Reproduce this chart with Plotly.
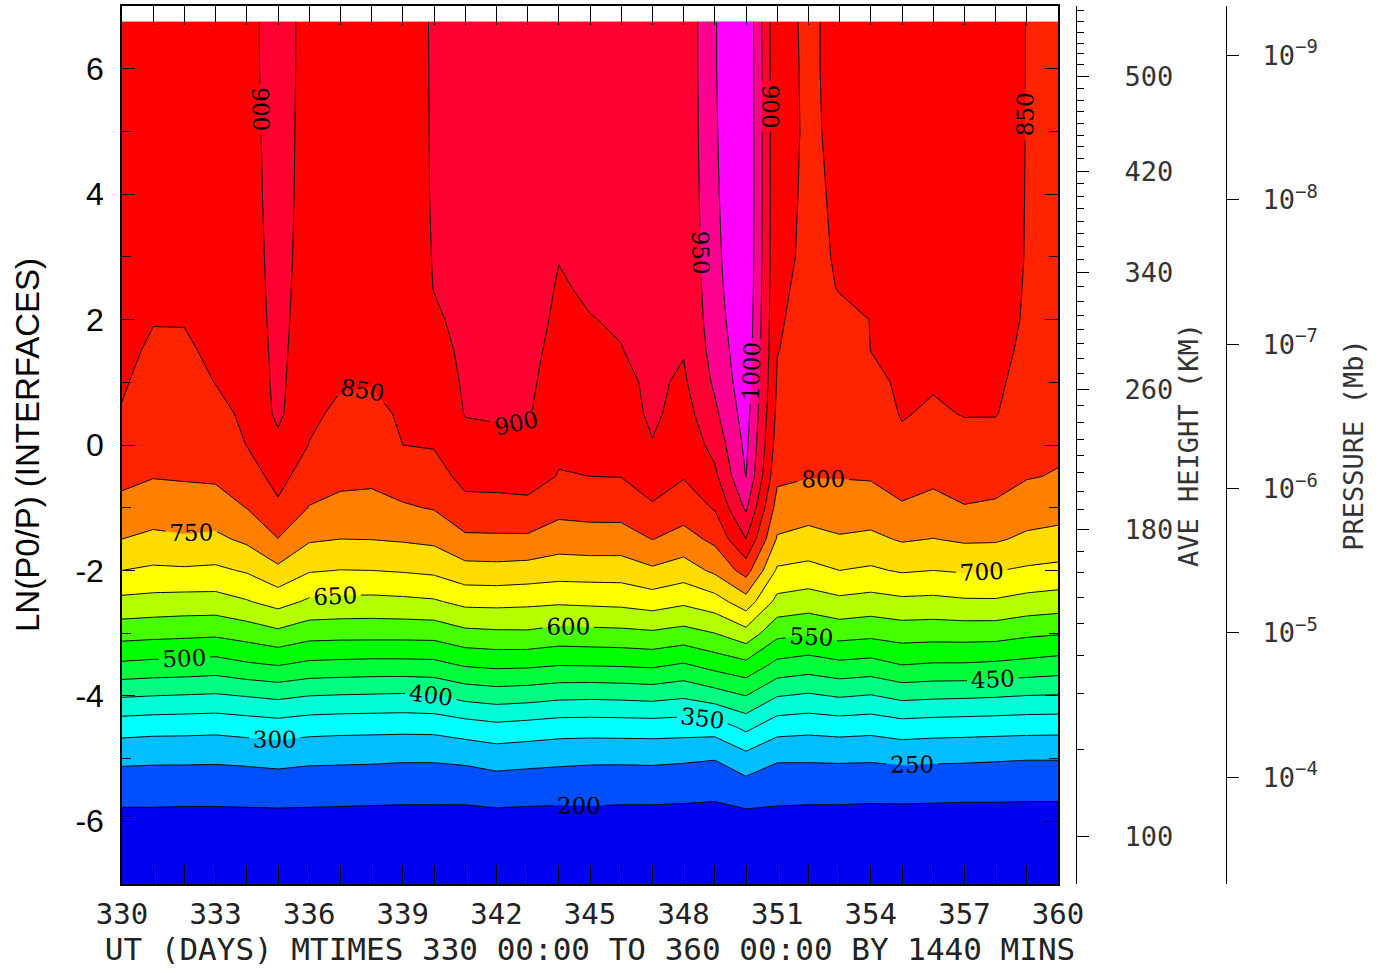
import math
import numpy as np
import plotly.graph_objects as go

# ---------------- data ----------------
DAYS = list(range(330, 361))
LNP = [-7, -6.5, -6, -5.5, -5, -4.5, -4, -3.5, -3, -2.5, -2, -1.5, -1, -0.5,
       0, 0.5, 1, 1.5, 2, 2.5, 3, 4, 5, 6, 6.75]

# temperature profiles (K) for each day, one value per LNP level
T330 = [172, 178, 184, 220, 260, 321, 404, 492, 570, 637, 700, 750, 787, 811, 829, 847, 855, 861, 866, 870, 873, 876, 878, 880, 880]
T331 = [172, 178, 184, 220, 258, 317, 400, 487, 566, 633, 692, 739, 775, 802, 812, 822, 833, 843, 852, 860, 868, 876, 880, 883, 885]
T332 = [171, 177, 183, 219, 258, 316, 397, 485, 563, 630, 694, 744, 780, 804, 814, 824, 834, 844, 852, 861, 868, 877, 883, 886, 888]
T333 = [171, 177, 183, 219, 257, 314, 394, 480, 560, 630, 691, 740, 779, 807, 822, 838, 851, 858, 864, 869, 873, 880, 885, 888, 890]
T334 = [172, 178, 184, 220, 260, 320, 402, 494, 572, 646, 705, 760, 801, 826, 851, 858, 865, 870, 875, 879, 882, 886, 889, 891, 892]
T335 = [172, 178, 184, 222, 264, 326, 410, 503, 589, 668, 738, 799, 841, 867, 888, 910, 912, 913, 914, 914, 914, 914, 913, 913, 912]
T336 = [172, 178, 184, 220, 259, 318, 400, 490, 570, 642, 704, 756, 798, 824, 849, 857, 866, 872, 877, 881, 884, 887, 889, 890, 891]
T337 = [171, 177, 183, 219, 258, 315, 397, 487, 568, 638, 699, 750, 788, 811, 827, 843, 853, 860, 866, 871, 875, 881, 885, 887, 888]
T338 = [170, 176, 182, 218, 257, 314, 395, 485, 568, 636, 700, 751, 786, 809, 823, 838, 852, 858, 863, 868, 872, 878, 882, 884, 885]
T339 = [169, 175, 181, 217, 255, 313, 393, 485, 568, 639, 704, 755, 795, 823, 850, 856, 862, 867, 871, 875, 878, 882, 884, 885, 886]
T340 = [169, 175, 181, 217, 255, 314, 397, 487, 569, 644, 710, 761, 803, 831, 853, 863, 874, 884, 894, 901, 902, 903, 903, 903, 903]
T341 = [168, 174, 180, 218, 259, 326, 416, 506, 588, 663, 732, 791, 835, 864, 885, 902, 906, 909, 911, 912, 913, 914, 915, 915, 915]
T342 = [171, 177, 183, 223, 268, 336, 424, 512, 592, 664, 734, 792, 835, 866, 890, 904, 909, 912, 914, 916, 917, 918, 919, 920, 920]
T343 = [169, 175, 181, 221, 264, 330, 420, 510, 593, 661, 730, 792, 838, 868, 893, 905, 910, 913, 915, 917, 918, 919, 920, 920, 920]
T344 = [169, 175, 181, 219, 261, 323, 412, 503, 583, 657, 723, 775, 815, 848, 857, 866, 876, 886, 893, 897, 901, 906, 910, 913, 915]
T345 = [170, 176, 182, 219, 258, 322, 410, 504, 586, 660, 724, 779, 818, 850, 860, 870, 880, 889, 899, 904, 907, 911, 913, 914, 915]
T346 = [168, 174, 180, 218, 258, 323, 412, 506, 588, 663, 724, 779, 819, 851, 863, 875, 887, 899, 903, 906, 908, 911, 913, 914, 915]
T347 = [168, 174, 180, 218, 259, 324, 416, 510, 593, 673, 742, 801, 845, 871, 897, 910, 910, 910, 910, 911, 911, 911, 912, 912, 912]
T348 = [167, 173, 179, 216, 256, 322, 407, 496, 583, 659, 726, 782, 823, 853, 866, 879, 892, 903, 904, 905, 906, 908, 910, 911, 911]
T349 = [164, 170, 176, 214, 252, 321, 427, 519, 600, 678, 760, 811, 854, 889, 916, 940, 958, 968, 977, 983, 987, 992, 995, 997, 997]
T350 = [171, 177, 183, 226, 281, 362, 450, 537, 632, 728, 820, 900, 958, 1001, 1012, 1022, 1030, 1036, 1041, 1045, 1047, 1048, 1048, 1047, 1046]
T351 = [170, 176, 183, 218, 255, 320, 402, 487, 564, 635, 693, 745, 780, 810, 828, 838, 846, 851, 853, 855, 857, 858, 858, 857, 856]
T352 = [169, 175, 181, 217, 255, 315, 393, 476, 556, 625, 685, 734, 771, 802, 815, 825, 832, 837, 841, 843, 845, 846, 847, 847, 847]
T353 = [169, 175, 181, 217, 256, 320, 404, 489, 570, 638, 700, 745, 778, 802, 811, 819, 828, 836, 845, 851, 852, 853, 854, 855, 855]
T354 = [167, 173, 179, 216, 255, 316, 397, 483, 564, 631, 693, 739, 777, 804, 816, 828, 840, 850.2, 850.3, 850.4, 851.5, 855, 859, 861, 862]
T355 = [167, 173, 179, 217, 259, 327, 413, 501, 573, 639, 705, 755, 795, 819, 841, 853, 856, 859, 861, 863, 864, 866, 867, 868, 868]
T356 = [166, 172, 178, 216, 257, 323, 409, 496, 571, 637, 700, 749, 785, 810, 827, 844, 854, 859, 863, 866, 868, 870, 871, 872, 872]
T357 = [165, 171, 177, 215, 256, 321, 407, 496, 572, 643, 705, 757, 798, 817, 835, 852, 857, 861, 865, 868, 870, 872, 873, 874, 874]
T358 = [165, 171, 177, 215, 254, 319, 404, 492, 571, 644, 702, 756, 794, 815, 834, 852, 856, 860, 864, 867, 869, 870, 871, 872, 872]
T359 = [164, 170, 176, 214, 252, 317, 399, 486, 560, 633, 693, 741, 775, 803, 818, 830, 838, 843, 846, 847, 848, 848.5, 848.8, 849, 849]
T360 = [164, 170, 176, 214, 252, 316, 397, 479, 554, 627, 687, 735, 769, 797, 808, 816, 822, 827, 831, 834, 836, 838, 839, 840, 840]

PROFILES = [T330, T331, T332, T333, T334, T335, T336, T337, T338, T339, T340,
            T341, T342, T343, T344, T345, T346, T347, T348, T349, T350,
            T351, T352, T353, T354, T355, T356, T357, T358, T359, T360]

# contour levels (K)
LEVEL_START, LEVEL_END, LEVEL_STEP = 200, 1000, 50

# one fill colour per band: <200, 200-250, ..., 950-1000, >1000
BAND_COLORS = ["#0000F2", "#0050FF", "#00BEFF", "#00FFFF", "#00FFD6", "#00FF80",
               "#00FF3A", "#00FF00", "#46FF00", "#B4FF00", "#FFFF00", "#FFDC00",
               "#FF8000", "#FF2400", "#FF0000", "#FF0030", "#FF0090", "#FF00FF"]

# x axis
X_TICKS = list(range(330, 361, 3))
Y_TICKS = [-6, -4, -2, 0, 2, 4, 6]
Y_TICKTEXT = ["-6", "-4", "-2", "0", "2", "4", "6"]

# average-height axis: height (km) -> LN(P0/P) position
HEIGHT_MAJOR_KM = [100, 180, 260, 340, 420, 500]
HEIGHT_MAJOR_Z = [-6.245, -1.354, 0.892, 2.751, 4.365, 5.878]
HEIGHT_MINOR_Z = [-4.859, -3.967, -3.362, -2.852, -2.438, -2.039, -1.705,
                  -1.036, -0.749, -0.446, -0.160, 0.080, 0.366, 0.637,
                  1.142, 1.381, 1.620, 1.848, 2.071, 2.294, 2.522,
                  2.958, 3.159, 3.372, 3.557, 3.771, 3.967, 4.169,
                  4.567, 4.752, 4.939, 5.125, 5.310, 5.496, 5.682,
                  6.065, 6.240, 6.409, 6.584, 6.760, 6.930]

# pressure axis
P0_MB = 5e-7
PRESSURE_EXP = [-9, -8, -7, -6, -5, -4]

# ---------------- figure ----------------
temp = np.array(PROFILES, dtype=float).T

nb = len(BAND_COLORS)
colorscale = []
for k, c in enumerate(BAND_COLORS):
    lo = max(0.0, (k - 0.5) / (nb - 1))
    hi = min(1.0, (k + 0.5) / (nb - 1))
    colorscale.append([lo, c])
    colorscale.append([hi, c])

W, H = 1387, 973
ML, MR, MT, MB = 122, 87, 6, 89
PW = W - ML - MR


def xfrac(px):
    return (px - ML) / PW


MONO = "DejaVu Sans Mono"
SANS = "Liberation Sans, Arial, sans-serif"

fig = go.Figure()
fig.add_trace(go.Contour(
    x=DAYS, y=LNP, z=temp,
    colorscale=colorscale, showscale=False,
    contours=dict(start=LEVEL_START, end=LEVEL_END, size=LEVEL_STEP,
                  coloring="fill", showlabels=True,
                  labelfont=dict(family="DejaVu Serif", size=23, color="black")),
    line=dict(color="black", width=1, smoothing=0),
    hoverinfo="skip",
))
fig.add_trace(go.Scatter(x=[], y=[], yaxis="y2", showlegend=False))
fig.add_trace(go.Scatter(x=[], y=[], yaxis="y3", showlegend=False))

pressure_vals = [math.log(P0_MB / (10.0 ** e)) for e in PRESSURE_EXP]
pressure_text = ["10<sup>\u2212%d</sup>" % (-e) for e in PRESSURE_EXP]

fig.update_layout(
    width=W, height=H,
    margin=dict(l=ML, r=MR, t=MT, b=MB, autoexpand=False),
    paper_bgcolor="white", plot_bgcolor="white",
    showlegend=False,
    xaxis=dict(
        domain=[0, xfrac(1058)], range=[330, 360],
        tickmode="array", tickvals=X_TICKS, ticktext=[str(v) for v in X_TICKS],
        ticks="inside", ticklen=19, tickwidth=1.2, tickcolor="black",
        minor=dict(dtick=1, tick0=330, ticks="inside", ticklen=10,
                   tickwidth=1.2, tickcolor="black"),
        showline=True, linecolor="black", linewidth=1.5, mirror="allticks",
        showgrid=False, zeroline=False,
        tickfont=dict(family=MONO, size=29, color="#222"),
        ticklabelstandoff=3,
        title=dict(text="UT (DAYS) MTIMES 330 00:00 TO 360 00:00 BY 1440 MINS",
                   font=dict(family=MONO, size=31, color="#222"), standoff=8),
        automargin=False,
    ),
    yaxis=dict(
        domain=[0, 1], range=[-7, 7],
        tickmode="array", tickvals=Y_TICKS, ticktext=Y_TICKTEXT,
        ticks="inside", ticklen=13, tickwidth=1.2, tickcolor="black",
        minor=dict(dtick=1, tick0=0, ticks="inside", ticklen=9,
                   tickwidth=1.2, tickcolor="black"),
        showline=True, linecolor="black", linewidth=1.5, mirror="allticks",
        showgrid=False, zeroline=False,
        tickfont=dict(family=SANS, size=32, color="black"),
        ticklabelstandoff=10,
        title=dict(text="LN(P0/P) (INTERFACES)",
                   font=dict(family=SANS, size=33, color="black"), standoff=26),
        automargin=False,
    ),
    yaxis2=dict(
        overlaying="y", anchor="free", position=xfrac(1076), side="right",
        range=[-7, 7],
        tickmode="array", tickvals=HEIGHT_MAJOR_Z,
        ticktext=[str(v) for v in HEIGHT_MAJOR_KM],
        ticks="outside", ticklen=12, tickwidth=1.2, tickcolor="black",
        minor=dict(tickmode="array", tickvals=HEIGHT_MINOR_Z, ticks="outside",
                   ticklen=7, tickwidth=1.2, tickcolor="black"),
        showline=True, linecolor="black", linewidth=1.2,
        showgrid=False, zeroline=False,
        tickfont=dict(family=MONO, size=27, color="#333"),
        ticklabelstandoff=30,
        title=dict(text="AVE HEIGHT (KM)",
                   font=dict(family=MONO, size=27, color="#333"), standoff=4),
        automargin=False,
    ),
    yaxis3=dict(
        overlaying="y", anchor="free", position=xfrac(1226), side="right",
        range=[-7, 7],
        tickmode="array", tickvals=pressure_vals, ticktext=pressure_text,
        ticks="outside", ticklen=12, tickwidth=1.2, tickcolor="black",
        showline=True, linecolor="black", linewidth=1.2,
        showgrid=False, zeroline=False,
        tickfont=dict(family=MONO, size=27, color="#333"),
        ticklabelstandoff=18,
        title=dict(text="PRESSURE (Mb)",
                   font=dict(family=MONO, size=27, color="#333"), standoff=27),
        automargin=False,
    ),
)

fig.write_html(
    "out.html",
    config={"displayModeBar": False},
    post_script="document.body.style.margin='0px';document.body.style.padding='0px';",
)
